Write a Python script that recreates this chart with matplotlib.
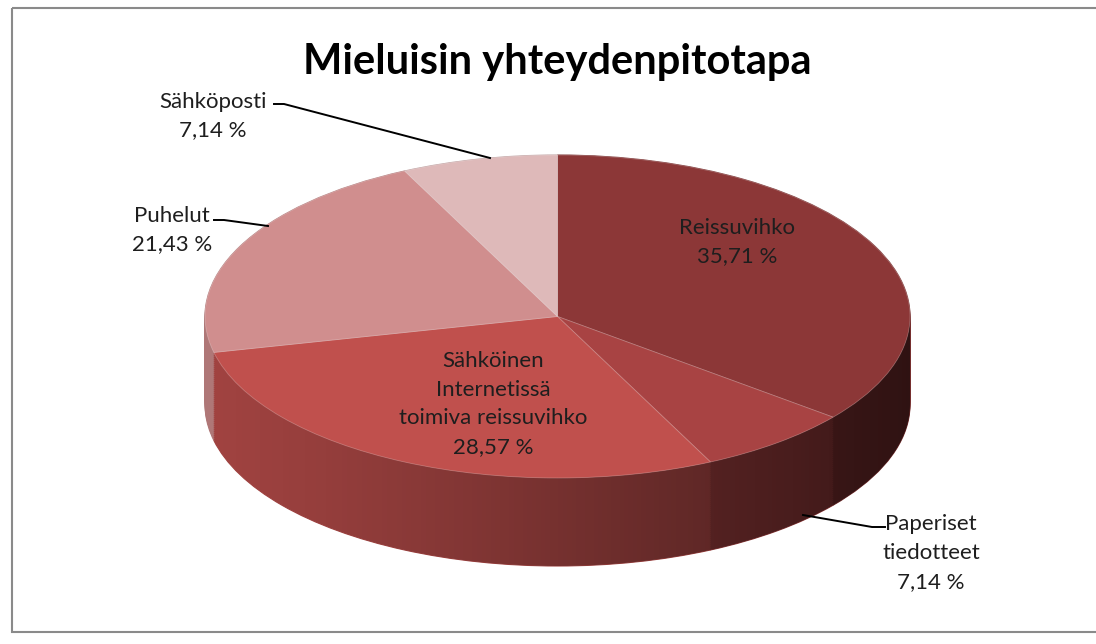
import numpy as np
import matplotlib
matplotlib.use("Agg")
import matplotlib.pyplot as plt
from matplotlib.patches import Polygon, Rectangle

plt.rcParams['font.family'] = ['Lato', 'DejaVu Sans']

# data
labels = ["Reissuvihko", "Paperiset\ntiedotteet", "Sähköinen\nInternetissä\ntoimiva reissuvihko",
          "Puhelut", "Sähköposti"]
values = [35.71, 7.14, 28.57, 21.43, 7.14]
top_colors = ["#8c3737", "#a84343", "#c0504d", "#d08e8e", "#deb9b9"]

# geometry of the tilted pie (pixels)
px_left, px_right = 205, 910
px_top, px_front = 155, 478
depth_px = 88
b = (px_front - px_top) / 2
depth = depth_px / b


def darker(c, f):
    r, g, bb = matplotlib.colors.to_rgb(c)
    return (r * f, g * f, bb * f)


side_colors = [darker(c, 0.84) for c in top_colors]

fig = plt.figure(figsize=(10.96, 6.44), dpi=100)
ax = fig.add_axes([px_left / 1096, (644 - (px_front + depth_px)) / 644,
                   (px_right - px_left) / 1096, (px_front + depth_px - px_top) / 644])

# side wall: stacked pies
for d in np.linspace(depth, 0, 45):
    wedges, _ = ax.pie(values, colors=side_colors, startangle=90, counterclock=False,
                       center=(0, -d), wedgeprops=dict(linewidth=0.8, zorder=1))
    for w in wedges:
        w.set_edgecolor(w.get_facecolor())

ax.set_aspect('auto')
ax.set_xlim(-1, 1)
ax.set_ylim(-1 - depth, 1)

# horizontal shading of the side wall
grad = np.zeros((2, 256, 4))
grad[..., 3] = np.linspace(0.0, 0.64, 256) ** 1.15
im = ax.imshow(grad, extent=(-1, 1, -1 - depth, 0), aspect='auto', zorder=1.5,
               interpolation='bilinear')
t = np.linspace(np.pi, 2 * np.pi, 300)
band = np.vstack([np.column_stack([np.cos(t), np.sin(t)]),
                  np.column_stack([np.cos(t[::-1]), np.sin(t[::-1]) - depth])])
clip = Polygon(band, closed=True, transform=ax.transData)
im.set_clip_path(clip)

# top face
ax.pie(values, colors=top_colors, startangle=90, counterclock=False,
       wedgeprops=dict(linewidth=0.6, edgecolor=(1, 1, 1, 0.25), zorder=2))
ax.set_aspect('auto')
ax.set_xlim(-1, 1)
ax.set_ylim(-1 - depth, 1)
ax.axis('off')

# overlay in pixel coordinates
ov = fig.add_axes([0, 0, 1, 1])
ov.set_xlim(0, 1096)
ov.set_ylim(644, 0)
ov.axis('off')
ov.patch.set_alpha(0)
ov.add_patch(Rectangle((12, 8), 1100, 624, fill=False, ec='#8a8a8a', lw=1.5))

ov.text(557, 62, "Mieluisin yhteydenpitotapa", ha='center', va='center',
        fontsize=30, fontweight='bold', color='black')


def pct(v):
    return f"{v:.2f}".replace('.', ',') + " %"


fs = 16
ls = 1.55
txt_col = '#1e1e1e'
# inside labels
ov.text(737, 242, f"{labels[0]}\n{pct(values[0])}", ha='center', va='center',
        fontsize=fs, color=txt_col, linespacing=ls)
ov.text(493, 404, f"{labels[2]}\n{pct(values[2])}", ha='center', va='center',
        fontsize=fs, color=txt_col, linespacing=ls)

# outside labels with leader lines
ov.text(213, 116, f"{labels[4]}\n{pct(values[4])}", ha='center', va='center',
        fontsize=fs, color=txt_col, linespacing=ls)
ov.plot([274, 284, 490], [104, 104, 158], color='black', lw=1.4)

ov.text(172, 230, f"{labels[3]}\n{pct(values[3])}", ha='center', va='center',
        fontsize=fs, color=txt_col, linespacing=ls)
ov.plot([214, 224, 268], [220, 220, 226], color='black', lw=1.4)

ov.text(931, 553, f"{labels[1]}\n{pct(values[1])}", ha='center', va='center',
        fontsize=fs, color=txt_col, linespacing=ls)
ov.plot([885, 872, 803], [527, 527, 515], color='black', lw=1.4)

fig.savefig("out.png", dpi=100, facecolor='white')
